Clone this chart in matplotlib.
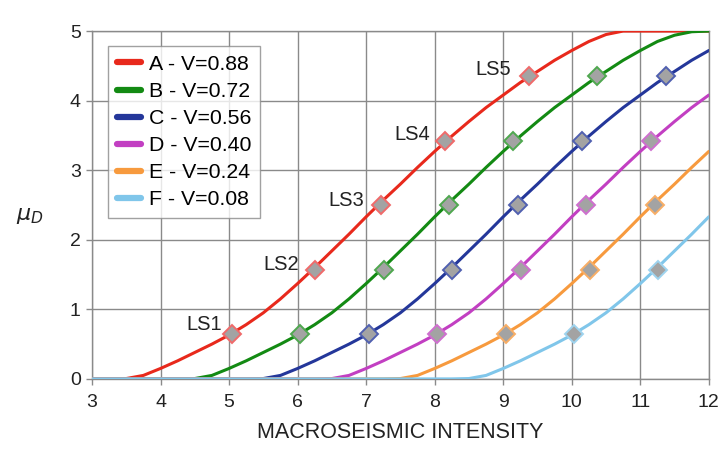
import matplotlib
matplotlib.use("Agg")
import matplotlib.pyplot as plt
import numpy as np

plt.rcParams['font.family'] = ['Liberation Sans', 'DejaVu Sans']

intensity = [3.00, 3.25, 3.50, 3.75, 4.00, 4.25, 4.50, 4.75, 5.00, 5.25, 5.50, 5.75,
             6.00, 6.25, 6.50, 6.75, 7.00, 7.25, 7.50, 7.75, 8.00, 8.25, 8.50, 8.75,
             9.00, 9.25, 9.50, 9.75, 10.00, 10.25, 10.50, 10.75, 11.00, 11.25, 11.50,
             11.75, 12.00]

mu_A = [0, 0, 0.005, 0.05, 0.15, 0.26, 0.38, 0.50, 0.63, 0.78, 0.95, 1.15, 1.37, 1.60,
        1.84, 2.08, 2.33, 2.57, 2.80, 3.04, 3.27, 3.49, 3.70, 3.90, 4.08, 4.26, 4.42,
        4.58, 4.72, 4.85, 4.95, 5.00, 5.00, 5.00, 5.00, 5.00, 5.00]
mu_B = [0, 0, 0, 0, 0, 0, 0.005, 0.05, 0.15, 0.26, 0.38, 0.50, 0.63, 0.78, 0.95, 1.15,
        1.37, 1.60, 1.84, 2.08, 2.33, 2.57, 2.80, 3.04, 3.27, 3.49, 3.70, 3.90, 4.08,
        4.26, 4.42, 4.58, 4.72, 4.85, 4.94, 4.99, 5.00]
mu_C = [0, 0, 0, 0, 0, 0, 0, 0, 0, 0, 0.005, 0.05, 0.15, 0.26, 0.38, 0.50, 0.63, 0.78,
        0.95, 1.15, 1.37, 1.60, 1.84, 2.08, 2.33, 2.57, 2.80, 3.04, 3.27, 3.49, 3.70,
        3.90, 4.08, 4.26, 4.42, 4.58, 4.72]
mu_D = [0, 0, 0, 0, 0, 0, 0, 0, 0, 0, 0, 0, 0, 0, 0.005, 0.05, 0.15, 0.26, 0.38, 0.50,
        0.63, 0.78, 0.95, 1.15, 1.37, 1.60, 1.84, 2.08, 2.33, 2.57, 2.80, 3.04, 3.27,
        3.49, 3.70, 3.90, 4.08]
mu_E = [0, 0, 0, 0, 0, 0, 0, 0, 0, 0, 0, 0, 0, 0, 0, 0, 0, 0, 0.005, 0.05, 0.15, 0.26,
        0.38, 0.50, 0.63, 0.78, 0.95, 1.15, 1.37, 1.60, 1.84, 2.08, 2.33, 2.57, 2.80,
        3.04, 3.27]
mu_F = [0, 0, 0, 0, 0, 0, 0, 0, 0, 0, 0, 0, 0, 0, 0, 0, 0, 0, 0, 0, 0, 0, 0.005, 0.05,
        0.15, 0.26, 0.38, 0.50, 0.63, 0.78, 0.95, 1.15, 1.37, 1.60, 1.84, 2.08, 2.33]

series_names = ["A - V=0.88", "B - V=0.72", "C - V=0.56", "D - V=0.40",
                "E - V=0.24", "F - V=0.08"]
series_values = [mu_A, mu_B, mu_C, mu_D, mu_E, mu_F]
series_colors = ["#e8291c", "#138a13", "#24379a", "#c23fc2", "#f79a3e", "#80c6ea"]
marker_edges = ["#f06a6a", "#4fa84f", "#5060b0", "#cf6fcf", "#f8ae66", "#9fd4ef"]

# limit-state thresholds (mu_D) and intensities where each curve crosses them
ls_labels = ["LS1", "LS2", "LS3", "LS4", "LS5"]
ls_mu = [0.65, 1.57, 2.50, 3.42, 4.35]
ls_I = [
    [5.04, 6.26, 7.21, 8.15, 9.37],
    [6.04, 7.26, 8.21, 9.15, 10.37],
    [7.04, 8.26, 9.21, 10.15, 11.37],
    [8.04, 9.26, 10.21, 11.15],
    [9.04, 10.26, 11.21],
    [10.04, 11.26],
]
# label positions for the LS annotations (on curve A)
ls_text_I = [4.90, 6.02, 6.97, 7.93, 9.11]
ls_text_mu = [0.78, 1.64, 2.57, 3.52, 4.45]

fig = plt.figure(figsize=(7.27, 4.5), dpi=100)
ax = fig.add_axes([0.1265, 0.158, 0.8485, 0.773])

for name, vals, col in zip(series_names, series_values, series_colors):
    ax.plot(intensity, vals, color=col, lw=2.2, label=name, zorder=3,
            solid_capstyle='round')

for k, (xs, col, ec) in enumerate(zip(ls_I, series_colors, marker_edges)):
    ax.plot(xs, ls_mu[:len(xs)], linestyle='none', marker='D', markersize=9.5,
            markerfacecolor='#a3a3a3', markeredgecolor=ec, markeredgewidth=1.4,
            zorder=4)

for lab, tx, ty in zip(ls_labels, ls_text_I, ls_text_mu):
    ax.text(tx, ty, lab, ha='right', va='center', fontsize=14.5, color='#222222',
            zorder=5)

ax.set_xlim(3, 12)
ax.set_ylim(0, 5)
ax.set_xticks(range(3, 13))
ax.set_yticks(range(0, 6))
ax.grid(True, color='#8a8a8a', lw=1.0)
ax.set_axisbelow(True)
for s in ax.spines.values():
    s.set_color('#8a8a8a')
    s.set_linewidth(1.0)
ax.tick_params(axis='both', colors='#8a8a8a', labelcolor='#222222',
               labelsize=14, length=4, width=1.0)
ax.tick_params(axis='x', pad=7)
ax.tick_params(axis='y', pad=4)
ax.set_xlabel("MACROSEISMIC INTENSITY", fontsize=15.5, color='#222222', labelpad=8)

fig.text(30 / 727, 1 - 215 / 450, r"$\mu_D$", fontsize=16, ha='center',
         va='center', color='#222222')

leg = ax.legend(loc='upper left', bbox_to_anchor=(0.026, 0.957), borderaxespad=0,
                fontsize=15.3, frameon=True, fancybox=False, handlelength=1.13,
                handletextpad=0.38, labelspacing=0.38, borderpad=0.42)
leg.get_frame().set_edgecolor('#8a8a8a')
leg.get_frame().set_linewidth(1.0)
for line in leg.get_lines():
    line.set_linewidth(4.5)
    line.set_solid_capstyle('round')

fig.savefig("out.png", dpi=100)
